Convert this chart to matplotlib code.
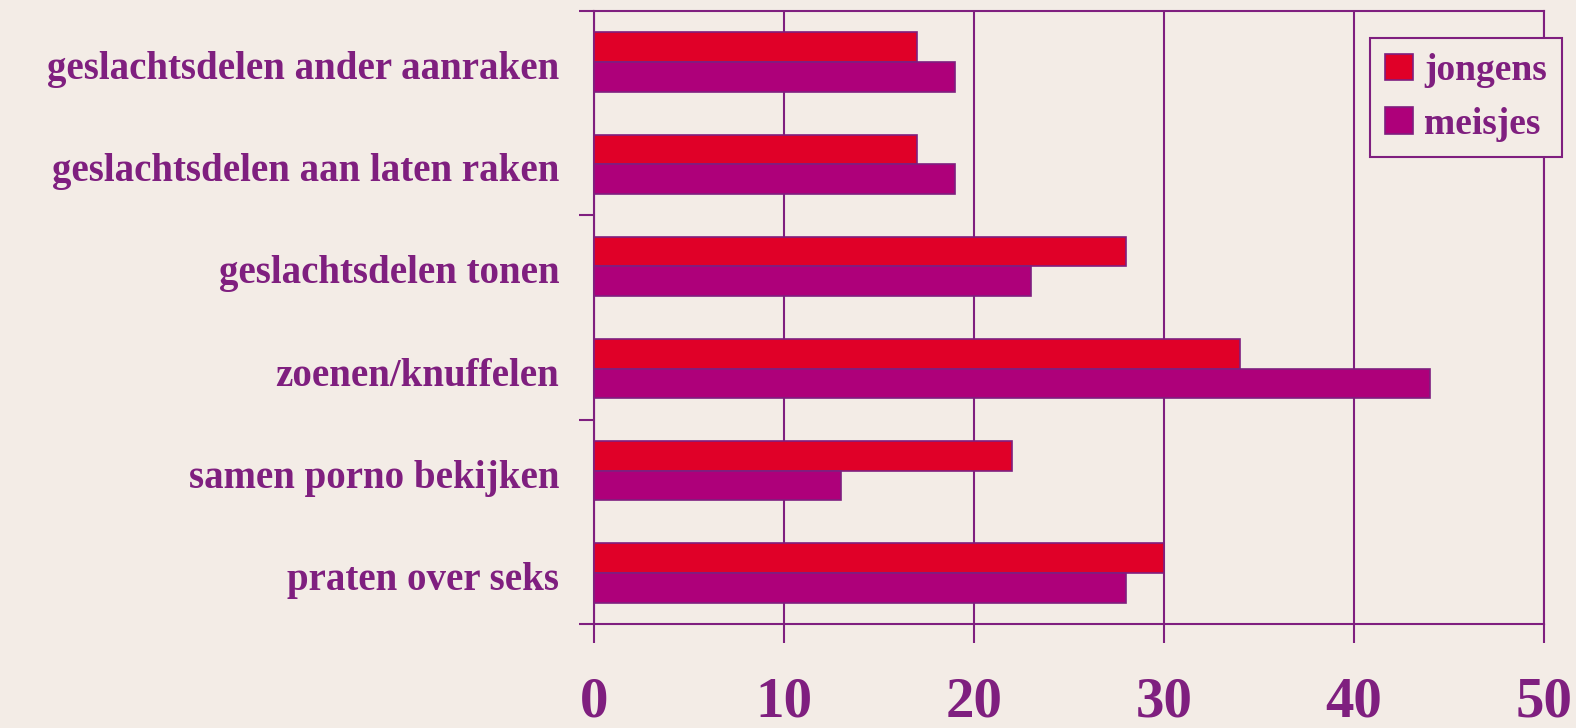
import matplotlib.pyplot as plt
from matplotlib.font_manager import FontProperties
from matplotlib.transforms import ScaledTranslation
import numpy as np

bg = '#F3ECE6'
ink = '#7F1F7F'
red = '#E00028'
purple = '#AE007A'

categories = ['geslachtsdelen ander aanraken',
              'geslachtsdelen aan laten raken',
              'geslachtsdelen tonen',
              'zoenen/knuffelen',
              'samen porno bekijken',
              'praten over seks']
jongens = [17, 17, 28, 34, 22, 30]
meisjes = [19, 19, 23, 44, 13, 28]
xticks = [0, 10, 20, 30, 40, 50]

label_font = FontProperties(family='Liberation Serif', weight='bold', size=28)
legend_font = FontProperties(family='Liberation Serif', weight='bold', size=27)
tick_font = FontProperties(family='Liberation Serif', weight='bold', size=41)

fig = plt.figure(figsize=(15.76, 7.28), dpi=100, facecolor=bg)
ax = fig.add_axes([0.3769, 0.1429, 0.6028, 0.842])
ax.set_facecolor(bg)

# bars: jongens above, meisjes below within each category
pos = np.arange(len(categories)) + 0.5
h = 0.29
ax.barh(pos - h / 2, jongens, height=h, color=red, edgecolor=ink,
        linewidth=1.2, label='jongens', zorder=3)
ax.barh(pos + h / 2, meisjes, height=h, color=purple, edgecolor=ink,
        linewidth=1.2, label='meisjes', zorder=3)

ax.set_xlim(0, 50)
ax.set_ylim(len(categories), 0)

# vertical grid lines
ax.set_xticks(xticks)
ax.set_xticklabels([str(v) for v in xticks], fontproperties=tick_font,
                   color=ink)
ax.grid(axis='x', color=ink, linewidth=1.5, zorder=1)

# y ticks at every second category border, labels on minor ticks
ax.set_yticks([0, 2, 4, 6])
ax.set_yticklabels([])
ax.set_yticks(pos, minor=True)
ax.set_yticklabels(categories, minor=True, fontproperties=label_font,
                   color=ink)
ax.tick_params(axis='y', which='major', direction='out', length=11,
               width=1.5, color=ink)
ax.tick_params(axis='y', which='minor', length=0, pad=25)
ax.tick_params(axis='x', direction='out', length=14, width=1.5,
               color=ink, pad=24)

# labels sit a little below the category centre
shift = ScaledTranslation(0, -3 / 100, fig.dpi_scale_trans)
for lab in ax.get_yticklabels(minor=True):
    lab.set_transform(lab.get_transform() + shift)

for side in ['left', 'top', 'bottom', 'right']:
    ax.spines[side].set_color(ink)
    ax.spines[side].set_linewidth(1.5)

leg = ax.legend(loc='upper right', bbox_to_anchor=(0.991, 0.948),
                bbox_transform=fig.transFigure, prop=legend_font,
                frameon=True, fancybox=False, facecolor=bg, edgecolor=ink,
                handlelength=0.75, handleheight=0.7, handletextpad=0.3,
                borderpad=0.4, borderaxespad=0, labelspacing=0.5,
                framealpha=1)
leg.get_frame().set_linewidth(1.5)
for t in leg.get_texts():
    t.set_color(ink)

plt.savefig('out.png', facecolor=bg)
